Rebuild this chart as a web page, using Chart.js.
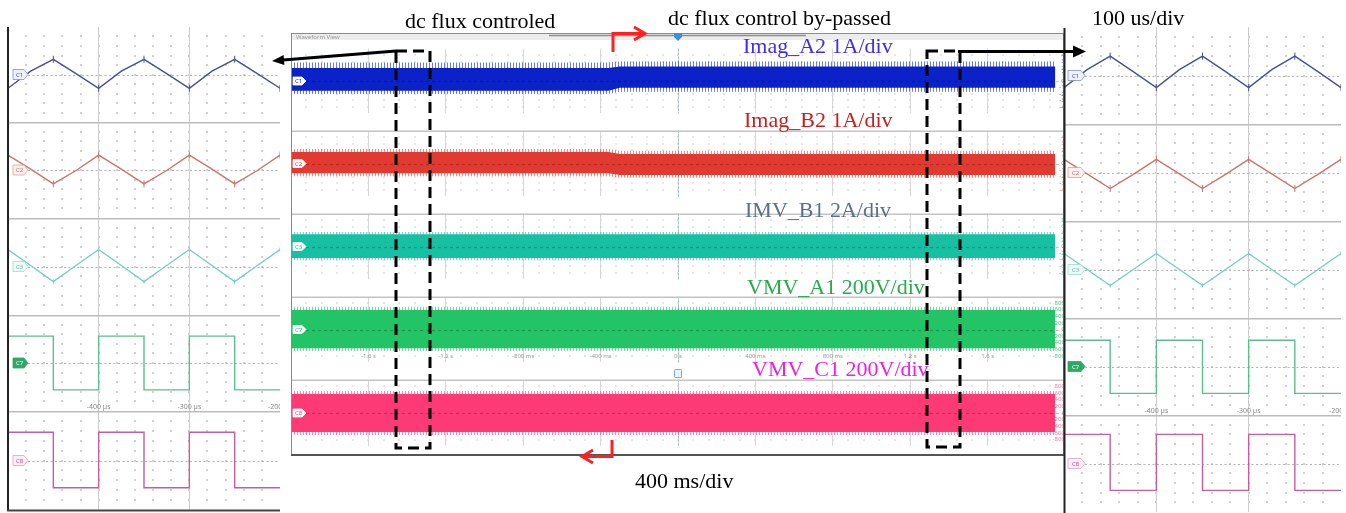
<!DOCTYPE html>
<html>
<head>
<meta charset="utf-8">
<script src="https://cdn.jsdelivr.net/npm/chart.js@4.4.1/dist/chart.umd.min.js"></script>
<style>
  html, body { margin: 0; padding: 0; background: #fff; }
  #page { position: relative; width: 1346px; height: 513px; overflow: hidden; background: #fff; }
  #page canvas { position: absolute; }
  #overlay { position: absolute; left: 0; top: 0; }
  #overlay text { font-family: "Liberation Serif", "Times New Roman", serif; font-size: 22px; }
</style>
</head>
<body>
<div id="page"></div>
<script>
(function () {
  "use strict";

  // zoom windows, time in µs
  const zoomTime = [-500, -475, -450, -425, -400, -375, -350, -325, -300, -275, -250, -225, -200];
  const squareTime = [-500, -450, -450, -400, -400, -350, -350, -300, -300, -250, -250, -200];

  // dc flux controlled (left window)
  const leftImagA2 = [-1.45, 0.35, 1.6, 0.1, -1.45, 0.35, 1.6, 0.1, -1.45, 0.35, 1.6, 0.1, -1.45];
  const leftImagB2 = [1.55, 0.1, -1.45, -0.05, 1.55, 0.1, -1.45, -0.05, 1.55, 0.1, -1.45, -0.05, 1.55];
  const leftImvB1 = [3.5, 0.2, -3.1, 0.2, 3.5, 0.2, -3.1, 0.2, 3.5, 0.2, -3.1, 0.2, 3.5];
  const leftVmvA1 = [560, 560, -560, -560, 560, 560, -560, -560, 560, 560, -560, -560];
  const leftVmvC1 = [570, 570, -550, -550, 570, 570, -550, -550, 570, 570, -550, -550];

  // dc flux control by-passed (right window)
  const rightImagA2 = [-1.25, 0.6, 2.0, 0.4, -1.25, 0.6, 2.0, 0.4, -1.25, 0.6, 2.0, 0.4, -1.25];
  const rightImagB2 = [1.35, -0.15, -1.65, -0.2, 1.35, -0.15, -1.65, -0.2, 1.35, -0.15, -1.65, -0.2, 1.35];
  const rightImvB1 = [3.3, 0, -3.3, 0, 3.3, 0, -3.3, 0, 3.3, 0, -3.3, 0, 3.3];
  const rightVmvA1 = [540, 540, -555, -555, 540, 540, -555, -555, 540, 540, -555, -555];
  const rightVmvC1 = [600, 600, -555, -555, 600, 600, -555, -555, 600, 600, -555, -555];

  // 4 s record, time in s: envelope of each trace
  const bandTime = [-2, -0.36, -0.3, 1.95];
  const imagA2Upper = [2.0, 2.0, 2.25, 2.25];
  const imagA2Lower = [-1.5, -1.5, -1.05, -1.05];
  const imagA2SpikeUp = [2.85, 2.85, 3.0, 3.0];
  const imagA2SpikeLow = [-2.0, -2.0, -1.65, -1.65];
  const imagB2Upper = [1.75, 1.75, 1.45, 1.45];
  const imagB2Lower = [-1.5, -1.5, -1.75, -1.75];
  const imagB2SpikeUp = [2.2, 2.2, 1.95, 1.95];
  const imagB2SpikeLow = [-1.95, -1.95, -2.15, -2.15];
  const imvB1Upper = [3.7, 3.7, 3.7, 3.7];
  const imvB1Lower = [-3.5, -3.5, -3.5, -3.5];
  const imvB1SpikeUp = [4.4, 4.4, 4.4, 4.4];
  const imvB1SpikeLow = [-4.2, -4.2, -4.2, -4.2];
  const vmvA1Upper = [590, 590, 590, 590];
  const vmvA1Lower = [-570, -570, -570, -570];
  const vmvA1SpikeUp = [690, 690, 690, 690];
  const vmvA1SpikeLow = [-650, -650, -650, -650];
  const vmvC1Upper = [570, 570, 570, 570];
  const vmvC1Lower = [-570, -570, -570, -570];
  const vmvC1SpikeUp = [660, 660, 660, 660];
  const vmvC1SpikeLow = [-660, -660, -660, -660];

  // tick labels
  const centerTickValues = [-1.6, -1.2, -0.8, -0.4, 0, 0.4, 0.8, 1.2, 1.6];
  const centerTickLabels = ["-1.6 s", "-1.2 s", "-800 ms", "-400 ms", "0 s", "400 ms", "800 ms", "1.2 s", "1.6 s"];
  const zoomTickValues = [-400, -300, -200];
  const zoomTickLabels = ["-400 µs", "-300 µs", "-200 µs"];
  const ampTicks = [4, 3, 2, 1, 0, -1, -2, -3, -4];
  const amp2Ticks = [8, 6, 4, 2, 0, -2, -4, -6, -8];
  const voltTicks = [800, 600, 400, 200, 0, -200, -400, -600, -800];

  const page = document.getElementById("page");

  const xy = (xs, ys) => xs.map((x, i) => ({ x: x, y: ys[i] }));

  function comb(color) {
    const c = document.createElement("canvas");
    c.width = 3;
    c.height = 2;
    const g = c.getContext("2d");
    g.fillStyle = color;
    g.fillRect(0, 0, 1, 2);
    return g.createPattern(c, "repeat");
  }

  function drawZero(ctx, a, y, o) {
    const py = Math.round(y.getPixelForValue(0)) + 0.5;
    ctx.strokeStyle = o.zeroColor;
    ctx.lineWidth = 1.2;
    ctx.setLineDash(o.zeroDash);
    ctx.beginPath();
    ctx.moveTo(a.left + (o.tag ? o.tag.dx + o.tag.w : 0), py);
    ctx.lineTo(a.right, py);
    ctx.stroke();
    ctx.setLineDash([]);
  }

  function drawTag(ctx, x0, y0, t) {
    const w = t.w, h = t.h;
    ctx.beginPath();
    ctx.moveTo(x0, y0 - h / 2);
    ctx.lineTo(x0 + w - 4, y0 - h / 2);
    ctx.lineTo(x0 + w, y0);
    ctx.lineTo(x0 + w - 4, y0 + h / 2);
    ctx.lineTo(x0, y0 + h / 2);
    ctx.closePath();
    ctx.fillStyle = t.fill;
    ctx.fill();
    ctx.lineWidth = 0.8;
    ctx.strokeStyle = t.stroke;
    ctx.stroke();
    ctx.fillStyle = t.color;
    ctx.font = "6px 'Noto Sans'";
    ctx.textAlign = "center";
    ctx.textBaseline = "middle";
    ctx.fillText(t.text, x0 + (w - 4) / 2 + 1, y0 + 0.5);
  }

  // oscilloscope screen: dot grid, zero line, separators, labels, channel tag
  const scopePlugin = {
    id: "scope",
    beforeDatasetsDraw(chart, args, o) {
      const ctx = chart.ctx, a = chart.chartArea;
      const x = chart.scales.x, y = chart.scales.y;
      ctx.save();
      ctx.fillStyle = o.dotColor;
      const nx = Math.round((x.max - x.min) / o.minorX);
      const ny = Math.round((y.max - y.min) / o.minorY);
      for (let i = 1; i < nx; i++) {
        const px = Math.round(x.getPixelForValue(x.min + i * o.minorX));
        for (let j = 1; j < ny; j++) {
          const py = Math.round(y.getPixelForValue(y.min + j * o.minorY));
          ctx.fillRect(px - o.dotSize / 2, py - o.dotSize / 2, o.dotSize, o.dotSize);
        }
      }
      if (o.timeZero) {
        const px = Math.round(x.getPixelForValue(0)) + 0.5;
        ctx.strokeStyle = o.timeZero;
        ctx.lineWidth = 1;
        ctx.setLineDash([2, 2]);
        ctx.beginPath();
        ctx.moveTo(px, a.top);
        ctx.lineTo(px, a.bottom);
        ctx.stroke();
        ctx.setLineDash([]);
      }
      if (!o.zeroOnTop) drawZero(ctx, a, y, o);
      if (o.topLine) {
        ctx.strokeStyle = o.topLine;
        ctx.lineWidth = 1.5;
        ctx.beginPath();
        ctx.moveTo(a.left, a.top + 0.75);
        ctx.lineTo(a.right, a.top + 0.75);
        ctx.stroke();
      }
      ctx.restore();
    },
    afterDatasetsDraw(chart, args, o) {
      const ctx = chart.ctx, a = chart.chartArea;
      const x = chart.scales.x, y = chart.scales.y;
      ctx.save();
      if (o.zeroOnTop) drawZero(ctx, a, y, o);
      if (o.labels) {
        ctx.fillStyle = o.labelColor;
        ctx.font = o.labelFont;
        ctx.textAlign = "center";
        ctx.textBaseline = "middle";
        x.ticks.forEach((t, i) => {
          ctx.fillText(o.labels[i], x.getPixelForTick(i), a.bottom - o.labelOffset);
        });
      }
      if (o.tag) drawTag(ctx, a.left + o.tag.dx, y.getPixelForValue(0), o.tag);
      ctx.restore();
    },
  };

  function strip(panel, i, cfg) {
    const canvas = document.createElement("canvas");
    const top = panel.tops[i];
    canvas.width = panel.width;
    canvas.height = panel.tops[i + 1] - top;
    canvas.style.left = panel.left + "px";
    canvas.style.top = top + "px";
    page.appendChild(canvas);

    return new Chart(canvas, {
      type: "line",
      data: { datasets: cfg.datasets },
      options: {
        responsive: false,
        animation: false,
        events: [],
        layout: { padding: 0, autoPadding: false },
        elements: { point: { radius: 0 }, line: { tension: 0 } },
        plugins: {
          legend: { display: false },
          tooltip: { enabled: false },
          scope: cfg.scope,
        },
        scales: {
          x: {
            type: "linear",
            min: cfg.xMin,
            max: cfg.xMax,
            afterBuildTicks: (s) => {
              s.ticks = cfg.tickValues.map((v) => ({ value: v }));
            },
            ticks: { display: false },
            grid: {
              drawTicks: false,
              lineWidth: 1,
              color: (c) => (c.tick && c.tick.value >= cfg.xMax ? "rgba(0,0,0,0)" : cfg.gridColor),
            },
            border: { display: false },
            afterFit: (s) => { s.height = 0; },
          },
          y: {
            type: "linear",
            position: "right",
            min: -cfg.yMax,
            max: cfg.yMax,
            display: !!cfg.yTicks,
            afterBuildTicks: (s) => {
              if (cfg.yTicks) s.ticks = cfg.yTicks.map((v) => ({ value: v }));
            },
            ticks: {
              mirror: true,
              padding: 5,
              autoSkip: false,
              color: cfg.yTickColor,
              font: { size: 6, family: "Noto Sans" },
              callback: (v) => v + " " + cfg.yUnit,
            },
            grid: { display: false },
            border: { display: false },
            afterFit: (s) => { s.width = 0; },
          },
        },
      },
      plugins: [scopePlugin],
    });
  }

  // ---- zoomed windows ----
  const leftPanel = { left: 8, width: 272, tops: [27, 122, 218, 315, 411, 510] };
  const rightPanel = { left: 1064, width: 277, tops: [27, 124, 221, 318, 415, 512] };

  const zoomChannels = [
    { yMax: 5, minorY: 1, color: "#4b4f98", spike: 3.5, tag: { text: "C1", fill: "#eef0fb", stroke: "#8a8fc4", color: "#4b4f98" } },
    { yMax: 5, minorY: 1, color: "#c9756e", spike: 3.5, tag: { text: "C2", fill: "#fbefee", stroke: "#dca29d", color: "#c0706a" } },
    { yMax: 10, minorY: 2, color: "#74d0bf", spike: 2, tag: { text: "C3", fill: "#effaf7", stroke: "#9fdccf", color: "#5cbfae" } },
    { yMax: 1000, minorY: 200, color: "#5cbf8c", spike: 0, tag: { text: "C7", fill: "#2ea865", stroke: "#2ea865", color: "#ffffff" } },
    { yMax: 1000, minorY: 200, color: "#c95c9a", spike: 0, tag: { text: "C8", fill: "#fbeff5", stroke: "#e0a2c4", color: "#c0508a" } },
  ];

  function zoomPanel(panel, series, tagDx, tagW) {
    zoomChannels.forEach((ch, i) => {
      const times = ch.spike ? zoomTime : squareTime;
      strip(panel, i, {
        xMin: -500,
        xMax: -200,
        yMax: ch.yMax,
        tickValues: zoomTickValues,
        gridColor: "#cdcdcd",
        datasets: [{
          data: xy(times, series[i]),
          borderColor: ch.color,
          borderWidth: 1.4,
          pointStyle: "line",
          rotation: 90,
          pointRadius: (c) => (ch.spike && c.dataIndex % 2 === 0 ? ch.spike : 0),
          pointBorderColor: ch.color,
          pointBorderWidth: 1,
        }],
        scope: {
          minorX: 20,
          minorY: ch.minorY,
          dotSize: 2,
          dotColor: "#d2d2d2",
          zeroColor: "#b4b4b4",
          zeroDash: [2, 2.5],
          topLine: i > 0 ? "#bcbcbc" : null,
          labels: i === 3 ? zoomTickLabels : null,
          labelColor: "#8c8c8c",
          labelFont: "7px 'Noto Sans'",
          labelOffset: 4,
          tag: Object.assign({ dx: tagDx, w: tagW, h: 10 }, ch.tag),
        },
      });
    });
  }

  zoomPanel(leftPanel, [leftImagA2, leftImagB2, leftImvB1, leftVmvA1, leftVmvC1], 5, 15);
  zoomPanel(rightPanel, [rightImagA2, rightImagB2, rightImvB1, rightVmvA1, rightVmvC1], 4, 17);

  // ---- 4 s record ----
  const centerPanel = { left: 291, width: 774, tops: [40, 122, 205, 288, 371, 455] };

  const centerChannels = [
    { yMax: 5, minorY: 1, ticks: ampTicks, unit: "A", color: "#0a22c8", fringe: "rgba(10,34,200,0.6)", tickColor: "#6a70a0", tag: "C1",
      band: [imagA2SpikeUp, imagA2SpikeLow, imagA2Upper, imagA2Lower] },
    { yMax: 5, minorY: 1, ticks: ampTicks, unit: "A", color: "#e23a30", fringe: "rgba(226,58,48,0.6)", tickColor: "#dd7f78", tag: "C2",
      band: [imagB2SpikeUp, imagB2SpikeLow, imagB2Upper, imagB2Lower] },
    { yMax: 10, minorY: 2, ticks: amp2Ticks, unit: "A", color: "#17bfa3", fringe: "rgba(23,191,163,0.6)", tickColor: "#62c4b3", tag: "C3",
      band: [imvB1SpikeUp, imvB1SpikeLow, imvB1Upper, imvB1Lower] },
    { yMax: 1000, minorY: 200, ticks: voltTicks, unit: "V", color: "#22c466", fringe: "rgba(34,196,102,0.6)", tickColor: "#5cc787", tag: "C7",
      band: [vmvA1SpikeUp, vmvA1SpikeLow, vmvA1Upper, vmvA1Lower] },
    { yMax: 1000, minorY: 200, ticks: voltTicks, unit: "V", color: "#fd3a76", fringe: "rgba(253,58,118,0.6)", tickColor: "#ec7ea0", tag: "C8",
      band: [vmvC1SpikeUp, vmvC1SpikeLow, vmvC1Upper, vmvC1Lower] },
  ];

  centerChannels.forEach((ch, i) => {
    const none = "rgba(0,0,0,0)";
    strip(centerPanel, i, {
      xMin: -2,
      xMax: 2,
      yMax: ch.yMax,
      tickValues: centerTickValues,
      gridColor: "#d8d8d8",
      yTicks: ch.ticks,
      yUnit: ch.unit,
      yTickColor: ch.tickColor,
      datasets: [
        { data: xy(bandTime, ch.band[2]), borderColor: none, borderWidth: 0, backgroundColor: ch.color, fill: "+1" },
        { data: xy(bandTime, ch.band[3]), borderColor: none, borderWidth: 0, fill: false },
        { data: xy(bandTime, ch.band[0]), borderColor: none, borderWidth: 0, backgroundColor: comb(ch.fringe), fill: "+1" },
        { data: xy(bandTime, ch.band[1]), borderColor: none, borderWidth: 0, fill: false },
      ],
      scope: {
        minorX: 0.08,
        minorY: ch.minorY,
        dotSize: 1.5,
        dotColor: "#d4d4d4",
        zeroColor: "rgba(0,0,0,0.22)",
        zeroDash: [3, 3],
        zeroOnTop: true,
        timeZero: "#9fb3c4",
        topLine: i > 0 ? "#c4c4c4" : null,
        labels: i === 3 ? centerTickLabels : null,
        labelColor: "#9a9a9a",
        labelFont: "6px 'Noto Sans'",
        labelOffset: 6,
        tag: { text: ch.tag, dx: 2, w: 13, h: 8, fill: "#ffffff", stroke: "#ffffff", color: ch.color },
      },
    });
  });

  // ---- annotations ----
  const svg =
    '<svg id="overlay" width="1346" height="513" xmlns="http://www.w3.org/2000/svg">' +
    '<rect x="291" y="33" width="773" height="7" fill="#ececec"/>' +
    '<rect x="291.5" y="33.5" width="772" height="421" fill="none" stroke="#8a8a8a" stroke-width="1"/>' +
    '<line x1="291" y1="455" x2="1064" y2="455" stroke="#555" stroke-width="2"/>' +
    '<text x="296" y="39" style="font-family:\'Noto Sans\';font-size:6px" fill="#9a9a9a">Waveform View</text>' +
    '<line x1="549" y1="35.5" x2="806" y2="35.5" stroke="#8c8c8c" stroke-width="1.5"/>' +
    '<path d="M674 33 h8 v4 l-4 4 l-4 -4 z" fill="#3d8fd8"/>' +
    '<rect x="674.5" y="369.5" width="7" height="8" rx="1" fill="#eaf3fb" stroke="#7aaad2"/>' +
    '<line x1="1064.5" y1="28" x2="1064.5" y2="513" stroke="#222" stroke-width="2"/>' +
    '<line x1="8" y1="27" x2="8" y2="511" stroke="#222" stroke-width="2"/>' +
    '<line x1="7" y1="510.5" x2="280" y2="510.5" stroke="#444" stroke-width="2"/>' +
    // dashed windows
    '<path d="M396 51 H430 V448 H396 Z" fill="none" stroke="#000" stroke-width="3" stroke-dasharray="11 6"/>' +
    '<path d="M927 51 H960 V447 H927 Z" fill="none" stroke="#000" stroke-width="3" stroke-dasharray="11 6"/>' +
    // black arrows
    '<line x1="396" y1="51" x2="283" y2="60" stroke="#000" stroke-width="3"/>' +
    '<polygon points="272,61 283.6,55 284.4,65" fill="#000"/>' +
    '<line x1="958" y1="51.5" x2="1075" y2="51.5" stroke="#000" stroke-width="3"/>' +
    '<polygon points="1086,51.5 1073,45.5 1073,57.5" fill="#000"/>' +
    // red arrows
    '<polyline points="613,52 613,33.5 643,33.5" fill="none" stroke="#ff2020" stroke-width="3"/>' +
    '<polyline points="634,27 645,33.5 634,40" fill="none" stroke="#ff2020" stroke-width="3"/>' +
    '<polyline points="612,440 612,456.5 584,456.5" fill="none" stroke="#ff2020" stroke-width="3"/>' +
    '<polyline points="593,450 582,456.5 593,463" fill="none" stroke="#ff2020" stroke-width="3"/>' +
    // texts
    '<text x="405" y="28" fill="#000">dc flux controled</text>' +
    '<text x="668" y="25" fill="#000">dc flux control by-passed</text>' +
    '<text x="1092" y="25" fill="#000">100 us/div</text>' +
    '<text x="635" y="488" fill="#000">400 ms/div</text>' +
    '<text x="743" y="53" fill="#3f2cf5">Imag_A2 1A/div</text>' +
    '<text x="744" y="127" fill="#cf1b1b">Imag_B2 1A/div</text>' +
    '<text x="745" y="217" fill="#5a6e90">IMV_B1 2A/div</text>' +
    '<text x="747" y="294" fill="#23ad4c">VMV_A1 200V/div</text>' +
    '<text x="752" y="376" fill="#ec1ee8">VMV_C1 200V/div</text>' +
    "</svg>";
  page.insertAdjacentHTML("beforeend", svg);
})();
</script>
</body>
</html>
